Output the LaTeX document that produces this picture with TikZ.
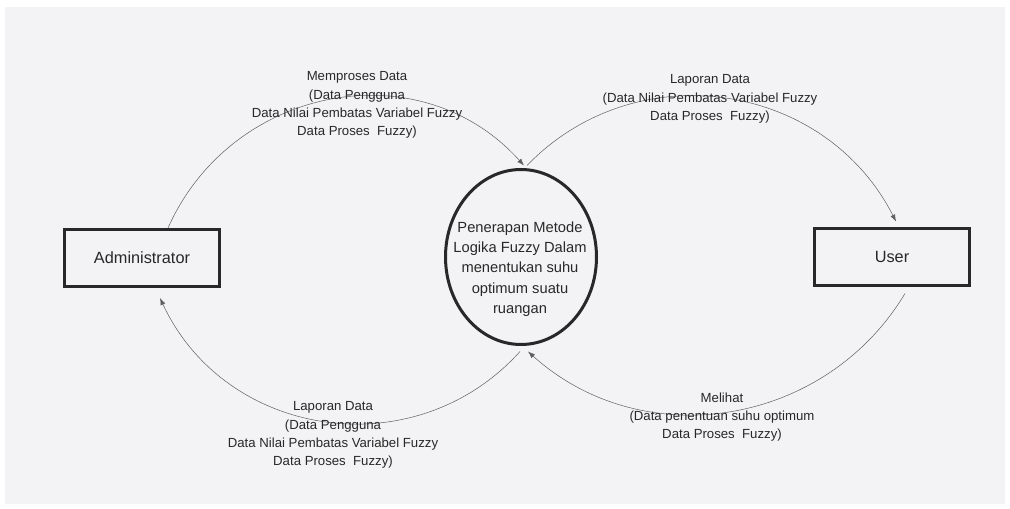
\documentclass[tikz,border=0pt]{standalone}
\usepackage{fontspec}
\setmainfont{Liberation Sans}
\usetikzlibrary{shapes.geometric,arrows.meta,calc}
\definecolor{paper}{RGB}{243,243,245}
\definecolor{ink}{RGB}{40,40,40}
\definecolor{wire}{RGB}{95,95,95}
\begin{document}
\begin{tikzpicture}[x=1pt,y=1pt,
  entity/.style={draw=ink, line width=3pt, fill=paper, minimum width=155pt, minimum height=57pt,
                 font=\fontsize{16.3}{19}\selectfont, text=ink},
  procnode/.style={ellipse, draw=ink, line width=3pt, fill=paper, minimum width=151pt, minimum height=175pt},
  flow/.style={draw=wire, line width=0.5pt, -{Latex[length=7pt,width=5pt]}},
  lbl/.style={align=center, font=\fontsize{13.2}{18.3}\selectfont, text=ink},
  ptext/.style={align=center, font=\fontsize{14.7}{20.3}\selectfont, text=ink}]
\useasboundingbox (0,0) rectangle (1010,509);
\fill[white] (0,0) rectangle (1010,509);
\fill[paper] (5,5) rectangle (1005,502);

\node[entity] (admin) at (142,251) {Administrator};
\node[entity] (user) at (892,252) {User};
\node[procnode] (proc) at (521,252) {};
\node[ptext] (proctext) at (520,240) {Penerapan Metode\\Logika Fuzzy Dalam\\menentukan suhu\\optimum suatu\\ruangan};

\draw[flow] ([xshift=26pt]admin.north) to[out=66,in=132,distance=156pt] ([shift={(3,2.5)}]proc.north);
\draw[flow] ([shift={(6,2.5)}]proc.north) to[out=46,in=117,distance=157pt] ([shift={(4,5.5)}]user.north);
\draw[flow] ([shift={(13,-6.5)}]user.south) to[out=-121,in=-42,distance=155pt] ([shift={(7,-5.5)}]proc.south);
\draw[flow] ([shift={(-1,-5.5)}]proc.south) to[out=-132,in=-65,distance=156pt] ([shift={(18,-10)}]admin.south);

\node[lbl] (l1) at (357,404) {Memproses Data\\(Data Pengguna\\Data Nilai Pembatas Variabel Fuzzy\\Data Proses~ Fuzzy)};
\node[lbl] (l2) at (710,410) {Laporan Data\\(Data Nilai Pembatas Variabel Fuzzy\\Data Proses~ Fuzzy)};
\node[lbl] (l3) at (333,74) {Laporan Data\\(Data Pengguna\\Data Nilai Pembatas Variabel Fuzzy\\Data Proses~ Fuzzy)};
\node[lbl] (l4) at (722,92) {Melihat\\(Data penentuan suhu optimum\\Data Proses~ Fuzzy)};
\end{tikzpicture}
\end{document}
